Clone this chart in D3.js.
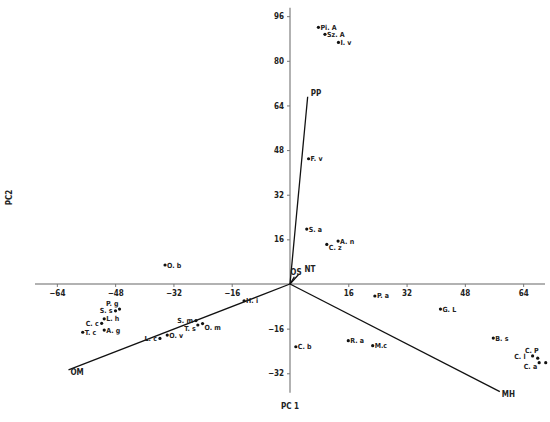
<!DOCTYPE html>
<html>
<head>
<meta charset="utf-8">
<script src="https://cdn.jsdelivr.net/npm/d3@7.9.0/dist/d3.min.js"></script>
<style>
  body { margin: 0; background: #fff; }
  svg text { font-family: "Liberation Sans Narrow", "DejaVu Sans Condensed", sans-serif; font-weight: bold; fill: #222; }
</style>
</head>
<body>
<svg id="chart" width="550" height="422"></svg>
<script>
// species scores (PC1, PC2)
const species = ['Pi. A', 'Sz. A', 'I. v', 'F. v', 'S. a', 'A. n', 'C. z', 'O. b', 'H. i',
  'P. g', 'S. s', 'L. h', 'C. c', 'A. g', 'T. c', 'L. c', 'O. v', 'S. m', 'T. s', 'O. m',
  'C. b', 'R. a', 'M.c', 'P. a', 'G. L', 'B. s', 'C. l', 'C. P', 'C. a', ''];
const pc1 = [7.8, 9.6, 13.3, 5.1, 4.6, 13.2, 10.1, -34.3, -12.6,
  -46.8, -47.9, -51.0, -51.7, -51.0, -56.9, -35.7, -33.7, -25.8, -25.3, -24.0,
  1.6, 16.0, 22.7, 23.3, 41.3, 55.8, 66.6, 68.0, 68.4, 70.2];
const pc2 = [92.0, 89.5, 86.6, 44.9, 19.7, 15.4, 14.2, 6.8, -6.0,
  -9.0, -9.6, -12.5, -14.1, -16.5, -17.3, -19.5, -18.3, -13.1, -14.7, -14.2,
  -22.5, -20.3, -22.1, -4.3, -9.0, -19.4, -25.8, -26.6, -28.2, -28.2];
// where each label sits: r = right, l = left, ll = further left, ul = up-left,
// uu = higher up-left, dl = down-left, dr = down-right
const labelPos = ['r', 'r', 'r', 'r', 'r', 'r', 'dr', 'r', 'r',
  'ul', 'l', 'r', 'l', 'r', 'r', 'l', 'r', 'l', 'dl', 'dr',
  'r', 'r', 'r', 'r', 'r', 'r', 'll', 'uu', 'dl', 'r'];

// environmental vectors
const vecNames = ['PP', 'OM', 'MH', 'NT', 'OS'];
const vecX = [4.85, -60.8, 57.6, 2.3, 1.2];
const vecY = [67.1, -30.8, -38.6, 3.3, 2.6];

const xTicks = [-64, -48, -32, -16, 16, 32, 48, 64];
const yTicks = [96, 80, 64, 48, 32, 16, -16, -32];

const svg = d3.select('#chart');
const x = d3.scaleLinear().domain([-70, 70]).range([35, 545]);
const y = d3.scaleLinear().domain([-39, 99]).range([392.8, 7.8]);

// axes through the origin
svg.append('line')
  .attr('x1', x(-70)).attr('x2', x(70))
  .attr('y1', y(0)).attr('y2', y(0))
  .attr('stroke', '#999').attr('stroke-width', 1.5);
svg.append('line')
  .attr('x1', x(0)).attr('x2', x(0))
  .attr('y1', y(99)).attr('y2', y(-39))
  .attr('stroke', '#999').attr('stroke-width', 1.5);

const xAxis = svg.append('g')
  .attr('transform', `translate(0,${y(0)})`)
  .call(d3.axisBottom(x).tickValues(xTicks).tickSize(3).tickPadding(3));
const yAxis = svg.append('g')
  .attr('transform', `translate(${x(0)},0)`)
  .call(d3.axisLeft(y).tickValues(yTicks).tickSize(3).tickPadding(3));
[xAxis, yAxis].forEach(g => {
  g.select('.domain').remove();
  g.selectAll('.tick line').attr('stroke', '#777');
  g.selectAll('.tick text').style('font-size', '8px').attr('fill', '#222');
});

// axis titles
svg.append('text')
  .attr('x', x(0)).attr('y', 409)
  .attr('text-anchor', 'middle')
  .style('font-size', '8px')
  .text('PC 1');
svg.append('text')
  .attr('transform', `translate(12,${y(31)}) rotate(-90)`)
  .attr('text-anchor', 'middle')
  .style('font-size', '8px')
  .text('PC2');

// vectors
vecNames.forEach((name, i) => {
  svg.append('line')
    .attr('x1', x(0)).attr('y1', y(0))
    .attr('x2', x(vecX[i])).attr('y2', y(vecY[i]))
    .attr('stroke', '#111').attr('stroke-width', 1.3);
});
const vecLabel = [[3, -1], [2, 5], [2, 5], [6, -3], [-4, -2]];
vecNames.forEach((name, i) => {
  svg.append('text')
    .attr('x', x(vecX[i]) + vecLabel[i][0])
    .attr('y', y(vecY[i]) + vecLabel[i][1])
    .style('font-size', '8px')
    .text(name);
});

// species points
const pts = species.map((s, i) => ({ name: s, px: pc1[i], py: pc2[i], pos: labelPos[i] }));
svg.selectAll('circle.pt')
  .data(pts)
  .join('circle')
  .attr('class', 'pt')
  .attr('cx', d => x(d.px))
  .attr('cy', d => y(d.py))
  .attr('r', 1.6)
  .attr('fill', '#111');

const off = {
  r: [2, 2.5, 'start'], l: [-3, 2.5, 'end'], ll: [-7, 3, 'end'], ul: [-1, -3.5, 'end'],
  uu: [1, -5.5, 'end'], dl: [-2, 6, 'end'], dr: [2, 6, 'start']
};
svg.selectAll('text.lab')
  .data(pts)
  .join('text')
  .attr('class', 'lab')
  .attr('x', d => x(d.px) + off[d.pos][0])
  .attr('y', d => y(d.py) + off[d.pos][1])
  .attr('text-anchor', d => off[d.pos][2])
  .style('font-size', '7px')
  .text(d => d.name);
</script>
</body>
</html>
